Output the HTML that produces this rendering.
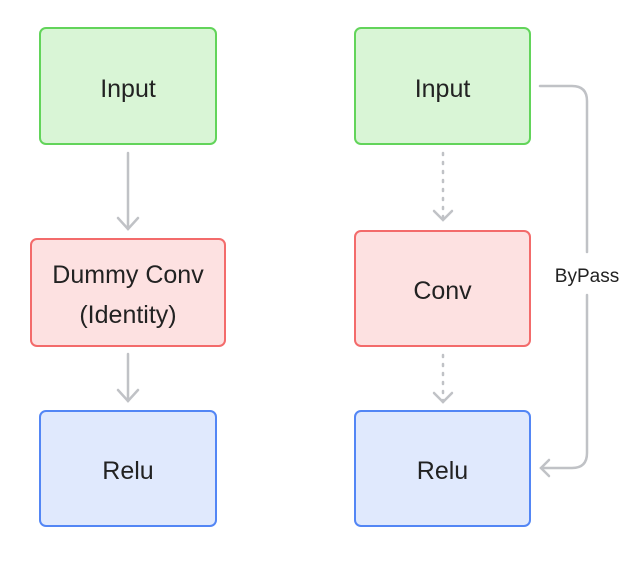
<!DOCTYPE html>
<html><head><style>
body{margin:0;width:636px;height:579px;background:#fff;overflow:hidden;position:relative;font-family:"Liberation Sans","DejaVu Sans",sans-serif;}
.b{position:absolute;box-sizing:border-box;border:2.8px solid;border-radius:7px;display:flex;align-items:center;justify-content:center;text-align:center;font-size:25px;color:#222;line-height:40px;padding-top:5px}
.g{background:#d9f5d6;border-color:#62d45a}
.r{background:#fde1e1;border-color:#f36b6b}
.u{background:#e0e9fd;border-color:#5386f5}
svg{position:absolute;left:0;top:0}
</style></head><body>
<svg width="636" height="579">
<g stroke="#c0c2c6" stroke-width="2.5" fill="none" stroke-linecap="round">
<line x1="128" y1="153" x2="128" y2="229"/><polyline points="118,218 128,229 138,218"/>
<line x1="128" y1="354" x2="128" y2="401"/><polyline points="118,390 128,401 138,390"/>
<line x1="443" y1="153" x2="443" y2="220" stroke-dasharray="2 7"/><polyline points="434,211 443,220 452,211"/>
<line x1="443" y1="355" x2="443" y2="402" stroke-dasharray="2 7"/><polyline points="434,393 443,402 452,393"/>
<path d="M540 86 H572 Q587 86 587 101 V252 M587 295 V453 Q587 468 572 468 H541"/>
<polyline points="549,460 541,468 549,476"/>
</g>
<text x="587" y="282" font-size="19" fill="#222" text-anchor="middle" font-family="Liberation Sans, sans-serif">ByPass</text>
</svg>
<div class="b g" style="left:39px;top:27px;width:178px;height:118px">Input</div>
<div class="b r" style="left:30px;top:238px;width:196px;height:109px">Dummy Conv<br>(Identity)</div>
<div class="b u" style="left:39px;top:410px;width:178px;height:117px">Relu</div>
<div class="b g" style="left:354px;top:27px;width:177px;height:118px">Input</div>
<div class="b r" style="left:354px;top:230px;width:177px;height:117px">Conv</div>
<div class="b u" style="left:354px;top:410px;width:177px;height:117px">Relu</div>
</body></html>
